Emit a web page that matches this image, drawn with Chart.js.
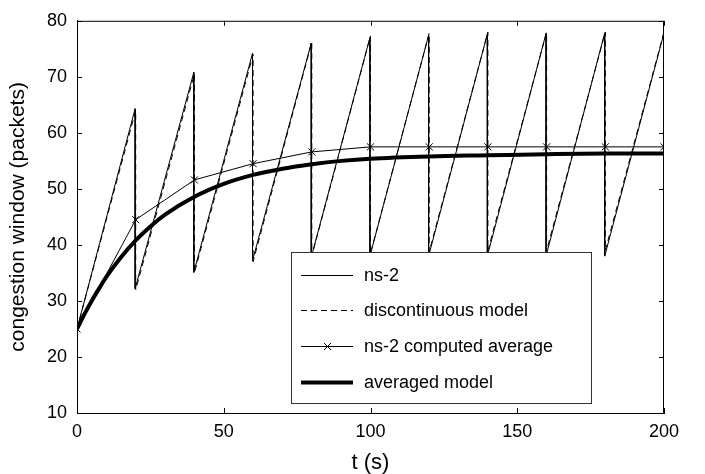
<!DOCTYPE html>
<html>
<head>
<meta charset="utf-8">
<script src="https://cdn.jsdelivr.net/npm/chart.js@4/dist/chart.umd.min.js"></script>
<style>
  body { margin: 0; background: #fff; }
  #wrap { width: 705px; height: 474px; }
</style>
</head>
<body>
<div id="wrap"><canvas id="chart" width="705" height="474"></canvas></div>
<script>
// values
const nsTimes = [0, 19.8, 19.8, 39.8, 39.8, 59.8, 59.8, 79.8, 79.8, 99.8, 99.8, 119.8, 119.8, 139.8, 139.8, 159.8, 159.8, 179.8, 179.8, 200];
const nsValues = [25, 64.3, 32.2, 70.8, 35.1, 74.2, 37.2, 76.0, 37.8, 77.0, 38.0, 77.4, 38.0, 77.6, 38.0, 77.7, 38.0, 77.8, 38.0, 77.8];

const discTimes = [0, 20, 20, 40, 40, 60, 60, 80, 80, 100, 100, 120, 120, 140, 140, 160, 160, 180, 180, 200, 200];
const discValues = [25, 64.0, 32.0, 70.5, 35.0, 74.0, 37.0, 76.2, 38.0, 77.3, 38.5, 77.8, 38.8, 78.0, 39.0, 78.0, 39.0, 78.0, 39.0, 78.0, 39.0];

const avgTimes = [0, 20, 40, 60, 80, 100, 120, 140, 160, 180, 200];
const avgValues = [25, 44.5, 51.6, 54.5, 56.6, 57.5, 57.5, 57.5, 57.5, 57.5, 57.5];

const modelTimes = [0, 2.5, 5, 7.5, 10, 15, 20, 25, 30, 40, 50, 60, 70, 80, 90, 100, 120, 140, 160, 180, 200];
const modelValues = [25, 27.6, 30.0, 32.2, 34.3, 37.8, 40.8, 43.3, 45.4, 48.6, 50.9, 52.5, 53.6, 54.4, 55.0, 55.4, 55.8, 56.0, 56.2, 56.3, 56.3];

const xTicks = [0, 50, 100, 150, 200];
const yTicks = [10, 20, 30, 40, 50, 60, 70, 80];

const seriesNames = ['ns-2', 'discontinuous model', 'ns-2 computed average', 'averaged model'];

const FONT = '"Liberation Sans", Arial, Helvetica, sans-serif';

function pts(ts, vs) {
  return ts.map((t, i) => ({ x: t, y: vs[i] }));
}

// matlab style box with inward tick marks
const boxPlugin = {
  id: 'box',
  afterDraw(chart) {
    const { ctx, chartArea: a, scales } = chart;
    ctx.save();
    ctx.strokeStyle = '#000';
    ctx.lineWidth = 1;
    ctx.beginPath();
    ctx.moveTo(a.left, a.top + 0.5);
    ctx.lineTo(a.right, a.top + 0.5);
    ctx.moveTo(a.right - 0.5, a.top);
    ctx.lineTo(a.right - 0.5, a.bottom);
    const len = 5;
    xTicks.forEach(v => {
      const x = Math.round(scales.x.getPixelForValue(v)) + 0.5;
      ctx.moveTo(x, a.bottom);
      ctx.lineTo(x, a.bottom - len);
      ctx.moveTo(x, a.top);
      ctx.lineTo(x, a.top + len);
    });
    yTicks.forEach(v => {
      const y = Math.round(scales.y.getPixelForValue(v)) + 0.5;
      ctx.moveTo(a.left, y);
      ctx.lineTo(a.left + len, y);
      ctx.moveTo(a.right, y);
      ctx.lineTo(a.right - len, y);
    });
    ctx.stroke();
    ctx.restore();
  }
};

// legend box inside the plot
const legendPlugin = {
  id: 'innerLegend',
  afterDraw(chart) {
    const { ctx } = chart;
    const bx = 291, by = 252, bw = 300, bh = 151;
    ctx.save();
    ctx.fillStyle = '#fff';
    ctx.fillRect(bx, by, bw, bh);
    ctx.strokeStyle = '#333';
    ctx.lineWidth = 1;
    ctx.strokeRect(bx + 0.5, by + 0.5, bw, bh);
    const rows = [275, 310, 346, 382];
    ctx.font = '18px ' + FONT;
    ctx.textBaseline = 'middle';
    chart.data.datasets.forEach((ds, i) => {
      const y = rows[i] + 0.5;
      ctx.strokeStyle = '#000';
      ctx.lineWidth = ds.borderWidth;
      ctx.setLineDash(ds.borderDash || []);
      ctx.beginPath();
      ctx.moveTo(301, y);
      ctx.lineTo(353, y);
      ctx.stroke();
      ctx.setLineDash([]);
      if (ds.pointStyle === 'crossRot') {
        ctx.lineWidth = 1;
        ctx.beginPath();
        ctx.moveTo(324, y - 3.5);
        ctx.lineTo(331, y + 3.5);
        ctx.moveTo(331, y - 3.5);
        ctx.lineTo(324, y + 3.5);
        ctx.stroke();
      }
      ctx.fillStyle = '#000';
      ctx.fillText(ds.label, 364, rows[i] + 1);
    });
    ctx.restore();
  }
};

new Chart(document.getElementById('chart'), {
  type: 'line',
  data: {
    datasets: [
      {
        label: seriesNames[0],
        data: pts(nsTimes, nsValues),
        borderColor: '#000',
        borderWidth: 1,
        pointRadius: 0,
        tension: 0
      },
      {
        label: seriesNames[1],
        data: pts(discTimes, discValues),
        borderColor: '#000',
        borderWidth: 1,
        borderDash: [6, 4],
        pointRadius: 0,
        tension: 0
      },
      {
        label: seriesNames[2],
        data: pts(avgTimes, avgValues),
        borderColor: '#000',
        borderWidth: 1,
        pointStyle: 'crossRot',
        pointRadius: 5,
        pointBorderWidth: 1,
        pointBorderColor: '#000',
        tension: 0
      },
      {
        label: seriesNames[3],
        data: pts(modelTimes, modelValues),
        borderColor: '#000',
        borderWidth: 4,
        pointRadius: 0,
        cubicInterpolationMode: 'monotone'
      }
    ]
  },
  options: {
    responsive: false,
    animation: false,
    layout: { padding: { top: 9, right: 41, left: 0, bottom: 0 } },
    plugins: {
      legend: { display: false },
      tooltip: { enabled: false }
    },
    scales: {
      x: {
        type: 'linear',
        min: 0,
        max: 200,
        afterFit(scale) { scale.height = 61; },
        afterBuildTicks(scale) { scale.ticks = xTicks.map(v => ({ value: v })); },
        grid: { drawOnChartArea: false, drawTicks: false },
        border: { color: '#000', width: 1 },
        ticks: { color: '#000', padding: 8, font: { family: FONT, size: 18 } },
        title: {
          display: true,
          text: 't (s)',
          color: '#000',
          font: { family: FONT, size: 22, lineHeight: 1 },
          padding: { top: 0, bottom: 0 }
        }
      },
      y: {
        min: 10,
        max: 80,
        afterFit(scale) { scale.width = 77; },
        afterBuildTicks(scale) { scale.ticks = yTicks.map(v => ({ value: v })); },
        grid: { drawOnChartArea: false, drawTicks: false },
        border: { color: '#000', width: 1 },
        ticks: { color: '#000', padding: 10, font: { family: FONT, size: 18 } },
        title: {
          display: true,
          text: 'congestion window (packets)',
          color: '#000',
          font: { family: FONT, size: 21, lineHeight: 1 },
          padding: { top: 8, bottom: 0 }
        }
      }
    }
  },
  plugins: [boxPlugin, legendPlugin]
});
</script>
</body>
</html>
